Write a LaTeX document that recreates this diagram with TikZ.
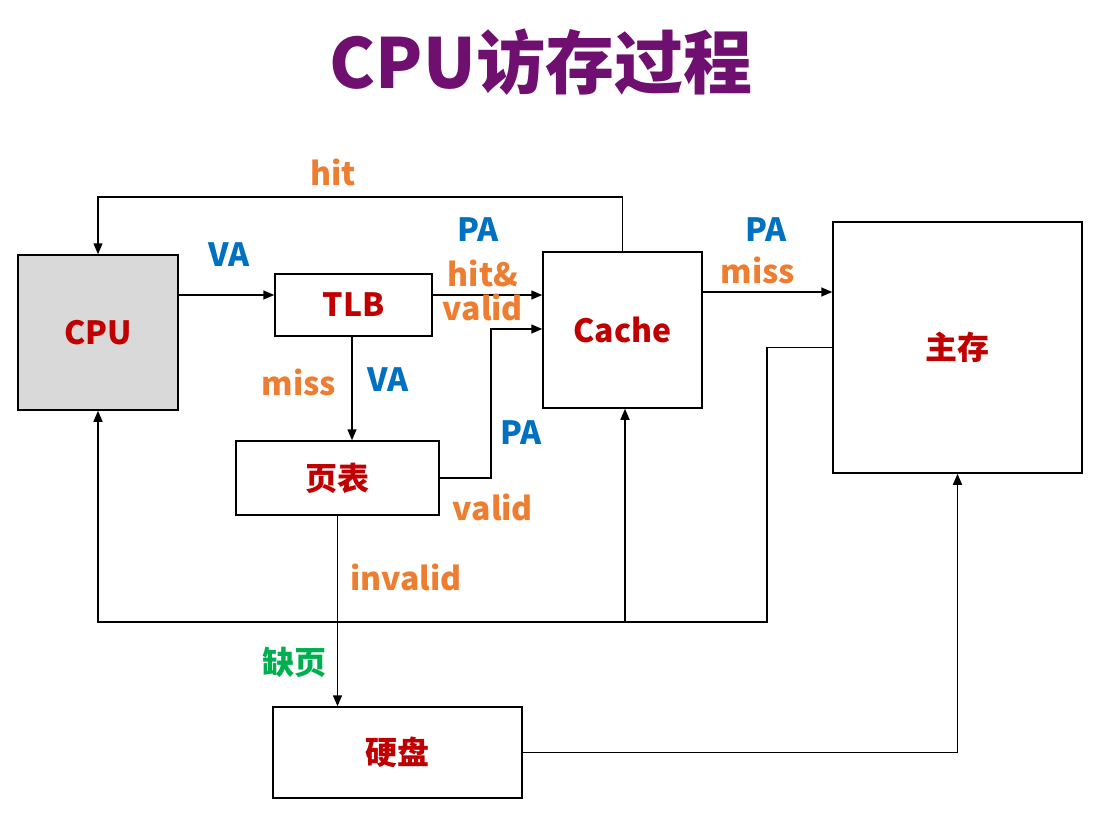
\documentclass[tikz,border=0pt]{standalone}
\usepackage{fontspec}
\setmainfont{Noto Sans CJK SC}
\usetikzlibrary{arrows.meta}

\definecolor{titlepurple}{HTML}{6F0F6F}
\definecolor{boxred}{HTML}{C00000}
\definecolor{labblue}{HTML}{0070C0}
\definecolor{laborange}{HTML}{ED7D31}
\definecolor{labgreen}{HTML}{00B050}
\definecolor{cpugray}{HTML}{D9D9D9}

\tikzset{
    box/.style={draw, line width=1.5pt, inner sep=0pt, text=boxred,
        font=\fontsize{32}{32}\selectfont\bfseries},
    arr/.style={line width=1.5pt, -{Triangle[length=11pt,width=9pt]}},
    lab/.style={inner sep=0pt, font=\fontsize{32}{32}\selectfont\bfseries},
}

\begin{document}
\begin{tikzpicture}[x=1pt, y=-1pt]

    % 画面の大きさ
    \useasboundingbox (0,0) rectangle (1103,824);

    % タイトル
    \node[inner sep=0pt, text=titlepurple, font=\fontsize{69}{69}\selectfont\bfseries]
        (title) at (541,62) {CPU访存过程};

    % ブロックの定義
    \node[box, fill=cpugray, minimum width=160, minimum height=155] (cpu) at (98,332.5) {CPU};
    \node[box, minimum width=157, minimum height=62] (tlb) at (353.5,305) {TLB};
    \node[box, minimum width=159, minimum height=156] (cache) at (622.5,330) {Cache};
    \node[box, minimum width=249, minimum height=251] (mem) at (957.5,347.5) {主存};
    \node[box, minimum width=203, minimum height=74] (pt) at (337.5,478) {页表};
    \node[box, minimum width=249, minimum height=91] (disk) at (397.5,752.5) {硬盘};

    % 分岐点
    \coordinate (bus) at (625,622);

    % 矢印の描画
    \draw[arr] (cpu.east |- 0,295) -- (tlb.west |- 0,295);
    \draw[arr] (tlb.east |- 0,295) -- (cache.west |- 0,295);
    \draw[arr] (cache.north) -- (cache.north |- 0,197) -| (cpu.north);
    \draw[arr] (cache.east |- 0,292) -- (mem.west |- 0,292);
    \draw[arr] (tlb.south -| 352,0) -- (pt.north -| 352,0);
    \draw[arr] (pt.east) -| (491,329) -- (cache.west |- 0,329);
    \draw[arr] (pt.south) -- (pt.south |- disk.north);
    \draw[arr] (disk.east) -| (mem.south);
    \draw[arr] (mem.west) -| (767,622) -- (bus) -| (cpu.south);
    \draw[line width=2.5pt] (767,622) -- (cpu.south |- bus);
    \draw[arr] (bus) -- (bus |- cache.south);

    % ラベルの描画
    \node[lab, text=labblue] (va1) at (229,255) {VA};
    \node[lab, text=laborange] (hit) at (333,172) {hit};
    \node[lab, text=labblue] (pa1) at (478,230) {PA};
    \node[lab, text=laborange] (hitv) at (483,273) {hit\&};
    \node[lab, text=laborange] (valid1) at (483,307) {valid};
    \node[lab, text=labblue] (pa2) at (766,230) {PA};
    \node[lab, text=laborange] (miss1) at (758,270) {miss};
    \node[lab, text=laborange] (miss2) at (299,382) {miss};
    \node[lab, text=labblue] (va2) at (388,380) {VA};
    \node[lab, text=labblue] (pa3) at (521,433) {PA};
    \node[lab, text=laborange] (valid2) at (493,507) {valid};
    \node[lab, text=laborange] (inval) at (406,577) {invalid};
    \node[lab, text=labgreen] (fault) at (294,662) {缺页};

\end{tikzpicture}
\end{document}
